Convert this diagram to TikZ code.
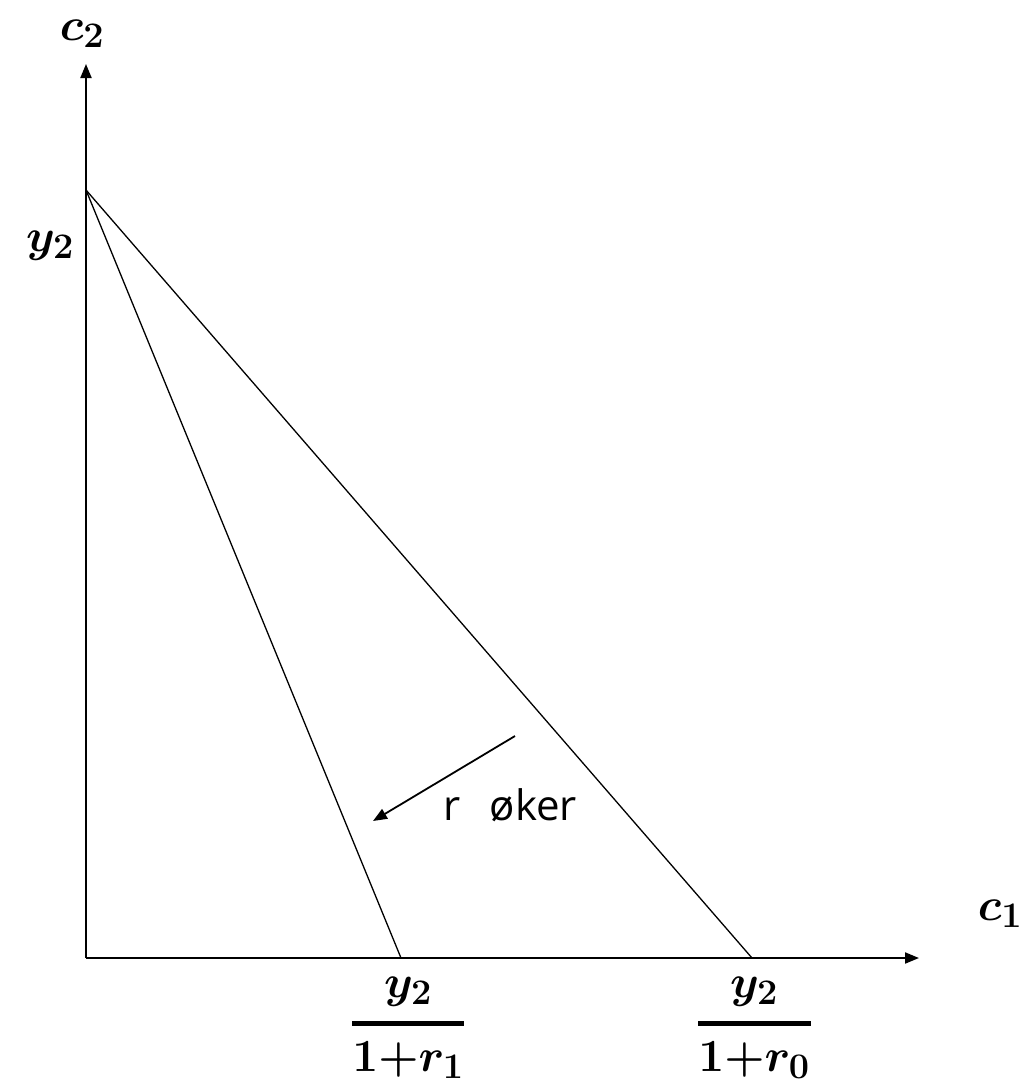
\RequirePackage{fix-cm}
\documentclass[tikz,border=0pt]{standalone}
\usepackage{fontspec}
\newfontfamily\labelfont{Open Sans}
\DeclareMathSizes{46}{46}{36}{28}
\usetikzlibrary{arrows.meta}
\tikzset{
  axis/.style={line width=2pt,-{Triangle[length=14pt,width=11pt]}},
  budget/.style={line width=1.3pt},
  shift arrow/.style={line width=1.8pt,-{Triangle[length=14pt,width=11pt]}},
  mathlbl/.style={font=\fontsize{46}{52}\selectfont\boldmath, inner sep=0pt},
  fracbar/.style={line width=5pt},
  txt/.style={font=\fontsize{42}{48}\selectfont\labelfont, inner sep=0pt}
}
\begin{document}
\begin{tikzpicture}[x=1pt,y=-1pt]
\useasboundingbox (0,0) rectangle (1031,1088);
\coordinate (O) at (86,958);
\coordinate (ytop) at (86,64);
\coordinate (xend) at (919,958);
\coordinate (A) at (86,190);
\coordinate (B1) at (401,958);
\coordinate (B0) at (752,958);
\coordinate (s) at (515,736);
\coordinate (t) at (373,821);
\draw[axis] (O) -- (ytop);
\draw[axis] (O) -- (xend);
\draw[budget] (A) -- (B1);
\draw[budget] (A) -- (B0);
\draw[shift arrow] (s) -- (t);
\node[mathlbl] (c2) at (82,34) {$c_2$};
\node[mathlbl] (y2) at (50,246) {$y_2$};
\node[mathlbl] (c1) at (1000,914) {$c_1$};
\node[txt, anchor=base west] (rok) at (443,820) {r\hspace{0.7em}øker};
% fraction 1
\node[mathlbl] (n1) at (408,992) {$y_2$};
\coordinate (b1l) at (352,1023);
\coordinate (b1r) at (464,1023);
\draw[fracbar] (b1l) -- (b1r);
\node[mathlbl] (d1) at (408,1060) {$1{+}r_1$};
% fraction 0
\node[mathlbl] (n0) at (754,992) {$y_2$};
\coordinate (b0l) at (698,1023);
\coordinate (b0r) at (811,1023);
\draw[fracbar] (b0l) -- (b0r);
\node[mathlbl] (d0) at (754,1060) {$1{+}r_0$};
\end{tikzpicture}
\end{document}
